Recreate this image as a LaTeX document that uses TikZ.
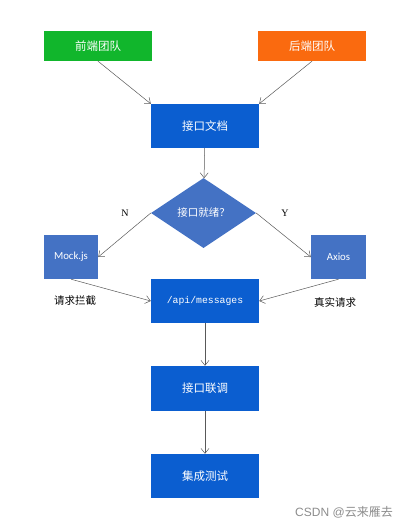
\documentclass[tikz,border=0pt]{standalone}
\usepackage{fontspec}
\setmainfont{Liberation Serif}
\newfontfamily\cjk{Noto Sans CJK SC}
\newfontfamily\calib{Carlito}
\newfontfamily\mono{Liberation Mono}
\newfontfamily\plain{Liberation Sans}
\usepackage{tikz}
\usetikzlibrary{arrows.meta,shapes.geometric}
\definecolor{teamgreen}{HTML}{11B62C}
\definecolor{teamorange}{HTML}{FA6A0F}
\definecolor{stepblue}{HTML}{0B5ED0}
\definecolor{softblue}{HTML}{4472C4}
\tikzset{>={Straight Barb[length=5pt,width=8pt]}}
\tikzset{
    box/.style={rectangle,draw=none,minimum width=108,minimum height=44,inner sep=0pt,text=white,font=\cjk\fontsize{11.5}{12}\selectfont},
    team/.style={box,minimum height=30},
    small/.style={box,fill=softblue,minimum width=54,font=\calib\fontsize{10.8}{12}\selectfont},
    decision/.style={diamond,fill=softblue,minimum width=105,minimum height=70,inner sep=0pt,text=white,font=\cjk\fontsize{10.5}{12}\selectfont},
    edgelabel/.style={rectangle,draw=none,inner sep=0pt,font=\cjk\fontsize{10.5}{12}\selectfont},
    directed/.style={arrows={->},draw=black!65,line width=0.5pt},
}
\begin{document}
\begin{tikzpicture}[x=1pt,y=-1pt]
		\useasboundingbox (0,0) rectangle (409,528);
		\node[team,fill=teamgreen] (front) at (98,46) {前端团队};
		\node[team,fill=teamorange] (back) at (312,46) {后端团队};
		\node[box,fill=stepblue] (doc) at (205,126) {接口文档};
		\node[decision] (ready) at (203.5,213) {接口就绪？};
		\node[small] (mock) at (71,257) {Mock.js};
		\node[small,minimum width=55] (axios) at (338.5,257) {Axios};
		\node[box,fill=stepblue,font=\mono\fontsize{9.8}{12}\selectfont] (api) at (205,301) {/api/messages};
		\node[box,fill=stepblue,minimum height=45] (joint) at (205,388.5) {接口联调};
		\node[box,fill=stepblue] (test) at (205,476) {集成测试};

		\node[edgelabel,font=\fontsize{10}{12}\selectfont] (no) at (125,213) {N};
		\node[edgelabel,font=\fontsize{10}{12}\selectfont] (yes) at (285,213) {Y};
		\node[edgelabel] (intercept) at (75,301) {请求拦截};
		\node[edgelabel] (real) at (335,302) {真实请求};
		\node[edgelabel,text=black!45,font=\cjk\fontsize{12}{14}\selectfont] (mark) at (344,512) {{\plain CSDN @}云来雁去};

		\draw[directed] (front.south) to (doc.north west);
		\draw[directed] (back.south) to (doc.north east);
		\draw[directed] (doc) to (ready);
		\draw[directed] (ready.west) to (mock.east);
		\draw[directed] (ready.east) to (axios.west);
		\draw[directed] (mock.south) to (api.west);
		\draw[directed] (axios.south) to (api.east);
		\draw[directed] (api) to (joint);
		\draw[directed] (joint) to (test);
	\end{tikzpicture}
\end{document}
